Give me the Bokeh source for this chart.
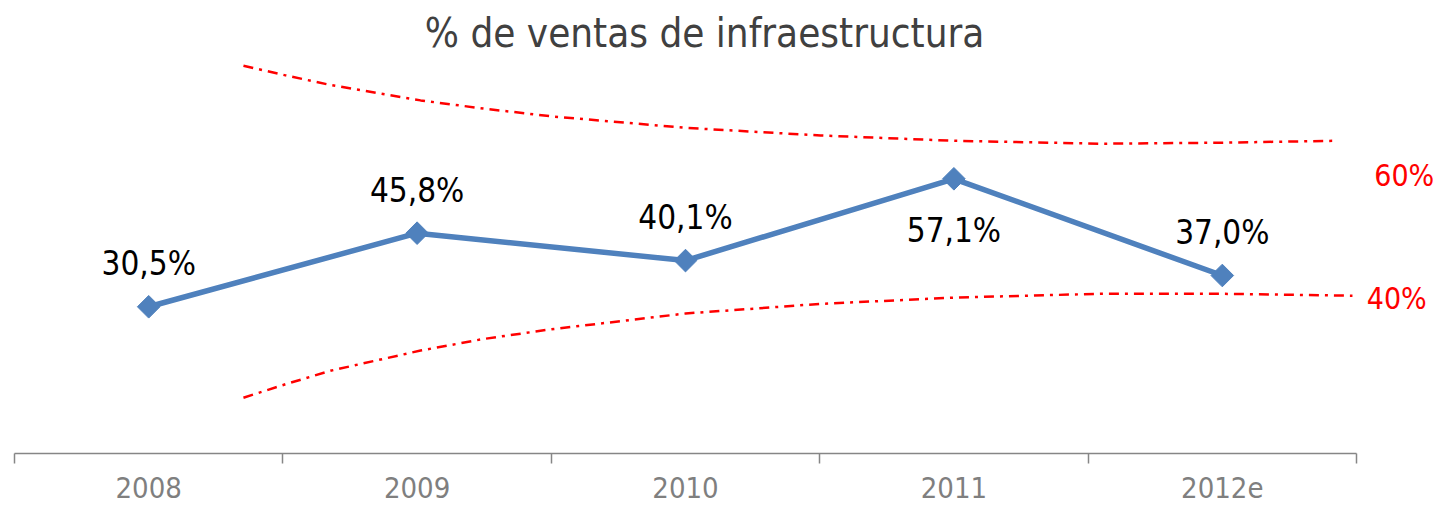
import numpy as np
from bokeh.plotting import figure
from bokeh.models import Range1d, FixedTicker, ColumnDataSource, Label
from bokeh.embed import file_html
from bokeh.resources import INLINE

categories = ["2008", "2009", "2010", "2011", "2012e"]
values = [30.5, 45.8, 40.1, 57.1, 37.0]
value_labels = ["30,5%", "45,8%", "40,1%", "57,1%", "37,0%"]
label_below = [False, False, False, True, False]

# decorative funnel curves (x in category units, y in %)
upper_x = [0.853, 1.010, 1.177, 1.513, 1.747, 1.997, 2.500, 3.003, 3.502, 4.046, 4.493, 4.922]
upper_y = [80.6, 78.6, 76.6, 73.4, 71.7, 70.1, 67.7, 66.1, 65.0, 64.4, 64.6, 65.0]
lower_x = [0.853, 1.010, 1.177, 1.513, 1.747, 1.997, 2.500, 3.003, 3.502, 4.046, 4.493, 4.985]
lower_y = [11.6, 14.4, 17.2, 21.4, 23.8, 25.8, 29.1, 31.1, 32.4, 33.2, 33.2, 32.8]
band_labels = ["60%", "40%"]

FONT = "DejaVu Sans Condensed"

xs = [i + 0.5 for i in range(len(categories))]
n = len(categories)

p = figure(frame_width=1428, frame_height=445, x_range=Range1d(0, n * 1428 / 1342),
           y_range=Range1d(0, 92.5),
           output_backend="svg", toolbar_location=None, min_border_left=14, min_border_right=0,
           min_border_top=8, min_border_bottom=52)
p.outline_line_color = None
p.grid.visible = False
p.yaxis.visible = False
p.background_fill_color = "white"
p.border_fill_color = "white"

ax = p.xaxis[0]
ax.bounds = (0, n)
ax.ticker = FixedTicker(ticks=xs, minor_ticks=list(range(n + 1)))
ax.major_label_overrides = {x: c for x, c in zip(xs, categories)}
ax.major_tick_out = 0
ax.major_tick_in = 0
ax.minor_tick_out = 10
ax.minor_tick_in = 0
ax.axis_line_color = "#868686"
ax.axis_line_width = 1.5
ax.minor_tick_line_color = "#868686"
ax.minor_tick_line_width = 1.5
ax.major_label_text_color = "#7f7f7f"
ax.major_label_text_font = FONT
ax.major_label_text_font_size = "29px"
ax.major_label_standoff = 13

p.line(upper_x, upper_y, line_color="red", line_width=2.5, line_dash="10 6 3 6")
p.line(lower_x, lower_y, line_color="red", line_width=2.5, line_dash="10 6 3 6")

p.line(xs, values, line_color="#4F81BD", line_width=5.5)
p.scatter(xs, values, marker="square", angle=np.pi / 4, size=16, fill_color="#4F81BD",
          line_color="#4F81BD")

src = ColumnDataSource(dict(x=xs, y=values, t=value_labels,
                            off=[52 if b else -43 for b in label_below]))
p.text(x="x", y="y", text="t", y_offset="off", source=src, text_align="center",
       text_baseline="middle", text_font_size="33px", text_color="black",
       text_font={"value": FONT})

p.add_layout(Label(x=5.178, y=57.8, text=band_labels[0], text_align="center", text_baseline="middle",
                   text_color="red", text_font=FONT, text_font_size="30px"))
p.add_layout(Label(x=5.15, y=32.2, text=band_labels[1], text_align="center", text_baseline="middle",
                   text_color="red", text_font=FONT, text_font_size="30px"))

p.add_layout(Label(x=2.571, y=87.5, text="% de ventas de infraestructura", text_align="center",
                   text_baseline="middle", text_color="#404040", text_font=FONT,
                   text_font_size="40px"))

open("out.html", "w").write(file_html(p, INLINE))
